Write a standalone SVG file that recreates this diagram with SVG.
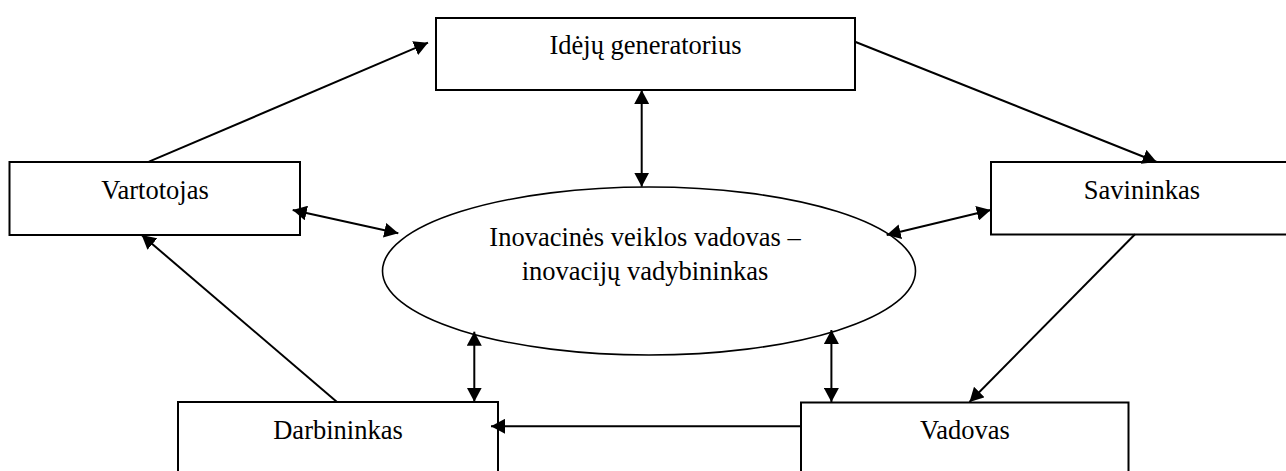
<svg xmlns="http://www.w3.org/2000/svg" width="1286" height="471" viewBox="0 0 1286 471">
  <style>
    .box { fill: #fff; stroke: #000; stroke-width: 2; }
    .oval { fill: #fff; stroke: #000; stroke-width: 1.6; }
    .lbl { font-family: "Liberation Serif", "Times New Roman", serif; font-size: 26.5px; fill: #000; text-anchor: middle; }
    .link { fill: none; stroke: #000; stroke-width: 2; }
    .one { marker-end: url(#head); }
    .two { marker-start: url(#head); marker-end: url(#head); }
  </style>
  <defs>
    <marker id="head" markerUnits="userSpaceOnUse" markerWidth="15" markerHeight="15" refX="14" refY="7.5" orient="auto-start-reverse">
      <path d="M0,0 L14,7.5 L0,15 Z" fill="#000"/>
    </marker>
  </defs>
  <rect width="1286" height="471" fill="#fff"/>

  <g id="nodes">
    <g id="idea-generator">
      <rect class="box" x="436" y="18" width="419" height="72"/>
      <text class="lbl" x="645.5" y="54">Idėjų generatorius</text>
    </g>
    <g id="consumer">
      <rect class="box" x="9.5" y="162" width="290.5" height="73"/>
      <text class="lbl" x="155" y="198.5">Vartotojas</text>
    </g>
    <g id="owner">
      <rect class="box" x="991" y="162" width="302" height="72.5"/>
      <text class="lbl" x="1142" y="198.5">Savininkas</text>
    </g>
    <g id="innovation-manager">
      <ellipse class="oval" cx="649" cy="271" rx="266.5" ry="84"/>
      <text class="lbl" x="645" y="246">Inovacinės veiklos vadovas –</text>
      <text class="lbl" x="645" y="279.5">inovacijų vadybininkas</text>
    </g>
    <g id="worker">
      <rect class="box" x="178" y="402" width="320" height="80"/>
      <text class="lbl" x="338" y="438.5">Darbininkas</text>
    </g>
    <g id="manager">
      <rect class="box" x="801" y="402.5" width="327.5" height="80"/>
      <text class="lbl" x="965" y="438.5">Vadovas</text>
    </g>
  </g>

  <g id="connectors">
    <!-- cycle around the outer roles -->
    <line class="link one" x1="149" y1="161.7" x2="428" y2="42.7"/>
    <line class="link one" x1="855" y1="41.7" x2="1156.7" y2="162"/>
    <line class="link one" x1="1135" y1="234.3" x2="969.5" y2="402"/>
    <line class="link one" x1="801" y1="426.3" x2="491" y2="426.3"/>
    <line class="link one" x1="336.7" y1="401.7" x2="141.7" y2="235"/>
    <!-- two-way links with the central role -->
    <line class="link two" x1="641.7" y1="90" x2="641.7" y2="186.7"/>
    <line class="link two" x1="292.7" y1="210" x2="398.3" y2="233.3"/>
    <line class="link two" x1="990.7" y1="210" x2="886.7" y2="235"/>
    <line class="link two" x1="474.3" y1="331.7" x2="474.3" y2="401.7"/>
    <line class="link two" x1="831.4" y1="330" x2="831.4" y2="402"/>
  </g>
</svg>
